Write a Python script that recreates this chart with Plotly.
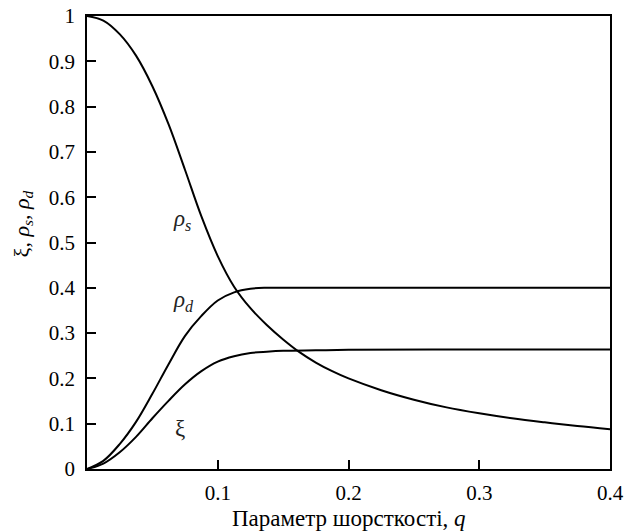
import plotly.graph_objects as go

# rho_s (specular reflectance)
q_rs = [0.0, 0.0125, 0.025, 0.0375, 0.05, 0.0625, 0.075, 0.0875, 0.1, 0.1125, 0.125, 0.1375,
        0.15, 0.1625, 0.175, 0.1875, 0.2, 0.225, 0.25, 0.275, 0.3, 0.325, 0.35, 0.375, 0.4]
v_rs = [1.0, 0.99, 0.96, 0.9125, 0.845, 0.76, 0.66, 0.5575, 0.47, 0.4025, 0.355, 0.318,
        0.286, 0.258, 0.235, 0.216, 0.2, 0.174, 0.153, 0.136, 0.123, 0.112, 0.103, 0.095, 0.088]

# rho_d (diffuse reflectance)
q_rd = [0.0, 0.0125, 0.025, 0.0375, 0.05, 0.0625, 0.075, 0.0875, 0.1, 0.1125, 0.125, 0.1375,
        0.15, 0.2, 0.3, 0.4]
v_rd = [0.0, 0.018, 0.055, 0.104, 0.166, 0.232, 0.294, 0.338, 0.372, 0.39, 0.398, 0.4,
        0.4, 0.4, 0.4, 0.4]

# xi
q_xi = [0.0, 0.0125, 0.025, 0.0375, 0.05, 0.0625, 0.075, 0.0875, 0.1, 0.1125, 0.125, 0.1375,
        0.15, 0.175, 0.2, 0.3, 0.4]
v_xi = [0.0, 0.012, 0.037, 0.071, 0.112, 0.151, 0.187, 0.216, 0.237, 0.249, 0.256, 0.259,
        0.261, 0.262, 0.263, 0.264, 0.264]

x_ticks = [0.1, 0.2, 0.3, 0.4]
x_ticktext = ["0.1", "0.2", "0.3", "0.4"]
y_ticks = [0, 0.1, 0.2, 0.3, 0.4, 0.5, 0.6, 0.7, 0.8, 0.9, 1.0]
y_ticktext = ["0", "0.1", "0.2", "0.3", "0.4", "0.5", "0.6", "0.7", "0.8", "0.9", "1"]

curve_labels = ["<i>ρ</i><sub><i>s</i></sub>", "<i>ρ</i><sub><i>d</i></sub>", "ξ"]
label_q = [0.073, 0.074, 0.071]
label_v = [0.550, 0.370, 0.090]

x_title = "Параметр шорсткості, <i>q</i>"
y_title = "ξ, <i>ρ</i><sub><i>s</i></sub>, <i>ρ</i><sub><i>d</i></sub>"

FONT = "Liberation Serif, Times New Roman, serif"

fig = go.Figure()
for qs, vs in [(q_rs, v_rs), (q_rd, v_rd), (q_xi, v_xi)]:
    fig.add_trace(go.Scatter(x=qs, y=vs, mode="lines",
                             line=dict(color="black", width=2, shape="spline", smoothing=1.0),
                             showlegend=False, hoverinfo="skip", cliponaxis=False))

for t, xq, yv in zip(curve_labels, label_q, label_v):
    fig.add_annotation(x=xq, y=yv, text=t, showarrow=False,
                       font=dict(family=FONT, size=23, color="#222"))

fig.add_annotation(x=0.5, y=0, xref="paper", yref="paper", yshift=-49,
                   text=x_title, showarrow=False, yanchor="middle",
                   font=dict(family=FONT, size=23, color="black"))
fig.add_annotation(x=0, y=0.54, xref="paper", yref="paper", xshift=-64,
                   text=y_title, showarrow=False, textangle=-90, xanchor="center",
                   font=dict(family=FONT, size=22, color="black"))

fig.update_layout(
    width=624, height=531,
    margin=dict(l=87, r=14, t=16, b=62, autoexpand=False),
    paper_bgcolor="white", plot_bgcolor="white",
    font=dict(family=FONT, size=21, color="black"),
)
fig.update_xaxes(range=[0, 0.4], tickvals=x_ticks, ticktext=x_ticktext,
                 ticks="inside", ticklen=9, tickwidth=1.5, tickcolor="black",
                 showline=True, linecolor="black", linewidth=1.5, mirror=True,
                 showgrid=False, zeroline=False, ticklabelstandoff=4, automargin=False)
fig.update_yaxes(range=[0, 1], tickvals=y_ticks, ticktext=y_ticktext,
                 ticks="inside", ticklen=9, tickwidth=1.5, tickcolor="black",
                 showline=True, linecolor="black", linewidth=1.5, mirror=True,
                 showgrid=False, zeroline=False, ticklabelstandoff=6, automargin=False)

fig.write_html("out.html")
